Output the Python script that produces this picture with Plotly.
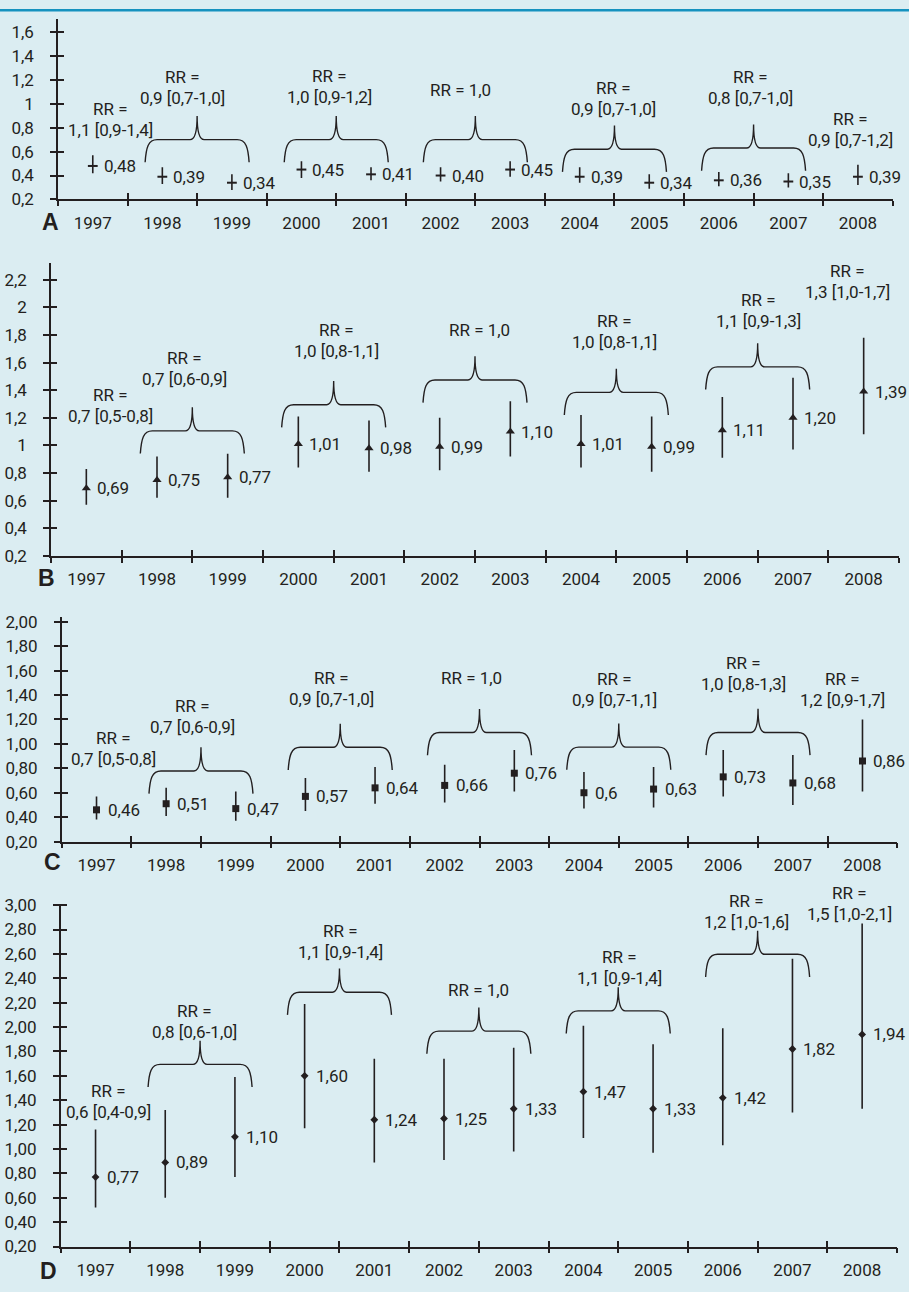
import plotly.graph_objects as go

W, H = 909, 1292
INK = "#231f20"
BG = "#dbedf2"
FONT = "Roboto, sans-serif"

# ---------------- data ----------------
YEARS = [1997, 1998, 1999, 2000, 2001, 2002, 2003, 2004, 2005, 2006, 2007, 2008]

A_VAL = [0.48, 0.39, 0.34, 0.45, 0.41, 0.40, 0.45, 0.39, 0.34, 0.36, 0.35, 0.39]
A_LO = [0.42, 0.33, 0.28, 0.38, 0.36, 0.35, 0.39, 0.34, 0.29, 0.31, 0.30, 0.32]
A_HI = [0.57, 0.47, 0.41, 0.52, 0.47, 0.47, 0.52, 0.47, 0.41, 0.43, 0.42, 0.49]
A_LAB = ["0,48", "0,39", "0,34", "0,45", "0,41", "0,40", "0,45", "0,39", "0,34", "0,36", "0,35", "0,39"]
A_RR = ["1,1 [0,9-1,4]", "0,9 [0,7-1,0]", "1,0 [0,9-1,2]", "1,0", "0,9 [0,7-1,0]", "0,8 [0,7-1,0]", "0,9 [0,7-1,2]"]
A_YTICKS = [0.2, 0.4, 0.6, 0.8, 1.0, 1.2, 1.4, 1.6]
A_YTEXT = ["0,2", "0,4", "0,6", "0,8", "1", "1,2", "1,4", "1,6"]

B_VAL = [0.69, 0.75, 0.77, 1.01, 0.98, 0.99, 1.10, 1.01, 0.99, 1.11, 1.20, 1.39]
B_LO = [0.57, 0.62, 0.62, 0.84, 0.81, 0.82, 0.92, 0.84, 0.81, 0.91, 0.97, 1.08]
B_HI = [0.83, 0.92, 0.94, 1.21, 1.18, 1.20, 1.32, 1.22, 1.21, 1.35, 1.49, 1.78]
B_LAB = ["0,69", "0,75", "0,77", "1,01", "0,98", "0,99", "1,10", "1,01", "0,99", "1,11", "1,20", "1,39"]
B_RR = ["0,7 [0,5-0,8]", "0,7 [0,6-0,9]", "1,0 [0,8-1,1]", "1,0", "1,0 [0,8-1,1]", "1,1 [0,9-1,3]", "1,3 [1,0-1,7]"]
B_YTICKS = [0.2, 0.4, 0.6, 0.8, 1.0, 1.2, 1.4, 1.6, 1.8, 2.0, 2.2]
B_YTEXT = ["0,2", "0,4", "0,6", "0,8", "1", "1,2", "1,4", "1,6", "1,8", "2", "2,2"]

C_VAL = [0.46, 0.51, 0.47, 0.57, 0.64, 0.66, 0.76, 0.60, 0.63, 0.73, 0.68, 0.86]
C_LO = [0.38, 0.41, 0.37, 0.45, 0.51, 0.52, 0.61, 0.47, 0.48, 0.57, 0.50, 0.61]
C_HI = [0.57, 0.64, 0.61, 0.72, 0.81, 0.83, 0.95, 0.77, 0.81, 0.95, 0.91, 1.20]
C_LAB = ["0,46", "0,51", "0,47", "0,57", "0,64", "0,66", "0,76", "0,6", "0,63", "0,73", "0,68", "0,86"]
C_RR = ["0,7 [0,5-0,8]", "0,7 [0,6-0,9]", "0,9 [0,7-1,0]", "1,0", "0,9 [0,7-1,1]", "1,0 [0,8-1,3]", "1,2 [0,9-1,7]"]
C_YTICKS = [0.2, 0.4, 0.6, 0.8, 1.0, 1.2, 1.4, 1.6, 1.8, 2.0]
C_YTEXT = ["0,20", "0,40", "0,60", "0,80", "1,00", "1,20", "1,40", "1,60", "1,80", "2,00"]

D_VAL = [0.77, 0.89, 1.10, 1.60, 1.24, 1.25, 1.33, 1.47, 1.33, 1.42, 1.82, 1.94]
D_LO = [0.52, 0.60, 0.77, 1.17, 0.89, 0.91, 0.98, 1.09, 0.97, 1.03, 1.30, 1.33]
D_HI = [1.16, 1.32, 1.59, 2.19, 1.74, 1.74, 1.83, 2.01, 1.86, 1.99, 2.56, 2.85]
D_LAB = ["0,77", "0,89", "1,10", "1,60", "1,24", "1,25", "1,33", "1,47", "1,33", "1,42", "1,82", "1,94"]
D_RR = ["0,6 [0,4-0,9]", "0,8 [0,6-1,0]", "1,1 [0,9-1,4]", "1,0", "1,1 [0,9-1,4]", "1,2 [1,0-1,6]", "1,5 [1,0-2,1]"]
D_YTICKS = [0.2, 0.4, 0.6, 0.8, 1.0, 1.2, 1.4, 1.6, 1.8, 2.0, 2.2, 2.4, 2.6, 2.8, 3.0]
D_YTEXT = ["0,20", "0,40", "0,60", "0,80", "1,00", "1,20", "1,40", "1,60", "1,80", "2,00",
           "2,20", "2,40", "2,60", "2,80", "3,00"]

# ---------------- layout / placement (pixels & annotation positions) ----------------
PANELS = [
    dict(letter="A", val=A_VAL, lo=A_LO, hi=A_HI, lab=A_LAB, rr=A_RR, yt=A_YTICKS, ytx=A_YTEXT,
         px0=58, px1=892.7, pyb=193.3, pyt=10, ymax=1.71, symbol="line-ew", msize=7, mline=2,
         letter_xy=(50, 216),
         rr_x=[0.75, 1.79, 3.91, 5.79, 7.99, 9.95, 11.40],
         rr_y=[0.872, 1.133, 1.141, 1.119, 1.044, 1.136, 0.787],
         brace_y=[0.70, 0.70, 0.70, 0.62, 0.63]),
    dict(letter="B", val=B_VAL, lo=B_LO, hi=B_HI, lab=B_LAB, rr=B_RR, yt=B_YTICKS, ytx=B_YTEXT,
         px0=51, px1=899, pyb=555, pyt=258, ymax=2.32, symbol="triangle-up", msize=8, mline=0,
         letter_xy=(46, 577),
         rr_x=[0.84, 1.885, 4.04, 6.07, 7.98, 10.01, 11.27],
         rr_y=[1.287, 1.559, 1.761, 1.836, 1.827, 1.974, 2.187],
         brace_y=[1.105, 1.295, 1.474, 1.384, 1.569]),
    dict(letter="C", val=C_VAL, lo=C_LO, hi=C_HI, lab=C_LAB, rr=C_RR, yt=C_YTICKS, ytx=C_YTEXT,
         px0=61.7, px1=897.3, pyb=845, pyt=617, ymax=2.04, symbol="square", msize=7, mline=0,
         letter_xy=(52, 866),
         rr_x=[0.74, 1.88, 3.88, 5.88, 7.94, 9.79, 11.21],
         rr_y=[0.959, 1.227, 1.45, 1.538, 1.449, 1.576, 1.449],
         brace_y=[0.778, 0.972, 1.093, 0.974, 1.094]),
    dict(letter="D", val=D_VAL, lo=D_LO, hi=D_HI, lab=D_LAB, rr=D_RR, yt=D_YTICKS, ytx=D_YTEXT,
         px0=60.7, px1=897, pyb=1256, pyt=908.3, ymax=3.01, symbol="diamond", msize=6, mline=0,
         letter_xy=(48, 1281),
         rr_x=[0.68, 1.92, 4.01, 6.0, 8.02, 9.84, 11.32],
         rr_y=[1.389, 2.046, 2.701, 2.308, 2.486, 2.945, 3.017],
         brace_y=[1.694, 2.286, 1.967, 2.133, 2.597]),
]

TXT = 17
NCAT = len(YEARS)
CENTERS = [i + 0.5 for i in range(NCAT)]
BOUNDS = list(range(NCAT + 1))


def fx(px):
    return px / W


def fy(py):
    return 1 - py / H


def ax_name(kind, n):
    return kind if n == 1 else f"{kind}{n}"


fig = go.Figure()
layout = {}
annotations = []
shapes = []

for i, p in enumerate(PANELS, start=1):
    xr, yr = ax_name("x", i), ax_name("y", i)
    xo, yo = ax_name("x", i + 4), ax_name("y", i + 4)
    xdom = [fx(p["px0"]), fx(p["px1"])]
    ydom = [fy(p["pyb"]), fy(p["pyt"])]
    yrange = [0.2, p["ymax"]]
    xppu = (p["px1"] - p["px0"]) / NCAT
    yppu = (p["pyb"] - p["pyt"]) / (yrange[1] - yrange[0])

    # points with confidence intervals
    fig.add_trace(go.Scatter(
        x=CENTERS, y=p["val"], mode="markers", xaxis=xr, yaxis=yr,
        marker=dict(symbol=p["symbol"], size=p["msize"], color=INK,
                    line=dict(color=INK, width=p["mline"])),
        error_y=dict(type="data", symmetric=False,
                     array=[h - v for h, v in zip(p["hi"], p["val"])],
                     arrayminus=[v - l for v, l in zip(p["val"], p["lo"])],
                     width=0, thickness=1.6, color=INK),
        showlegend=False, hoverinfo="skip", cliponaxis=False))
    # dummy traces for overlay tick axes
    fig.add_trace(go.Scatter(x=[None], y=[None], xaxis=xo, yaxis=yr, showlegend=False, hoverinfo="skip"))
    fig.add_trace(go.Scatter(x=[None], y=[None], xaxis=xr, yaxis=yo, showlegend=False, hoverinfo="skip"))

    tickfont = dict(family=FONT, size=TXT, color=INK)
    layout[ax_name("xaxis", i)] = dict(
        domain=xdom, range=[0, NCAT], anchor=yr, tickmode="array", tickvals=CENTERS,
        ticktext=[str(y) for y in YEARS], ticks="", showline=True, linewidth=1.5, linecolor=INK,
        showgrid=False, zeroline=False, tickfont=tickfont, ticklabelstandoff=7,
        minor=dict(tickmode="array", tickvals=BOUNDS, ticks="outside", ticklen=5,
                   tickwidth=1.5, tickcolor=INK))
    layout[ax_name("xaxis", i + 4)] = dict(
        overlaying=xr, anchor=yr, range=[0, NCAT], side="bottom", tickmode="array",
        tickvals=BOUNDS, ticks="inside", ticklen=6, tickwidth=1.5, tickcolor=INK,
        showticklabels=False, showline=False, showgrid=False, zeroline=False)
    layout[ax_name("yaxis", i)] = dict(
        domain=ydom, range=yrange, anchor=xr, tickmode="array", tickvals=p["yt"], ticktext=p["ytx"],
        ticks="outside", ticklen=6, tickwidth=1.5, tickcolor=INK, showline=True, linewidth=1.5,
        linecolor=INK, showgrid=False, zeroline=False, tickfont=tickfont, ticklabelstandoff=13)
    layout[ax_name("yaxis", i + 4)] = dict(
        overlaying=yr, anchor=xr, range=yrange, side="left", tickmode="array", tickvals=p["yt"],
        ticks="inside", ticklen=6, tickwidth=1.5, tickcolor=INK, showticklabels=False,
        showline=False, showgrid=False, zeroline=False)

    # value labels
    for xc, v, lab in zip(CENTERS, p["val"], p["lab"]):
        annotations.append(dict(x=xc, y=v, xref=xr, yref=yr, text=lab, showarrow=False,
                                xanchor="left", yanchor="middle", xshift=9,
                                font=dict(family=FONT, size=TXT, color=INK)))
    # RR labels (anchored inside the axis range, shifted in pixels if placed above it)
    for txt, rx, ry in zip(p["rr"], p["rr_x"], p["rr_y"]):
        ay = min(ry, yrange[1])
        extra = (ry - ay) * yppu
        lines = [("RR = 1,0", 0)] if txt == "1,0" else [("RR =", 10.5), (txt, -10.5)]
        for t, sh in lines:
            annotations.append(dict(x=rx, y=ay, xref=xr, yref=yr, text=t, showarrow=False,
                                    xanchor="center", yanchor="middle", yshift=sh + extra,
                                    font=dict(family=FONT, size=TXT, color=INK)))
    # braces grouping pairs of years
    hw = 52 / xppu
    drop, rise = 23 / yppu, 24 / yppu
    c1, c2 = 12 / xppu, 7 / xppu
    for j, yl in enumerate(p["brace_y"]):
        cx = BOUNDS[2 * (j + 1)]
        L, R = cx - hw, cx + hw
        yb = yl - drop
        path = (f"M {L},{yb} C {L + 1 / xppu},{yl - 8 / yppu} {L + 3 / xppu},{yl} {L + c1},{yl} "
                f"L {cx - c2},{yl} Q {cx},{yl} {cx},{yl + rise} "
                f"Q {cx},{yl} {cx + c2},{yl} L {R - c1},{yl} "
                f"C {R - 3 / xppu},{yl} {R - 1 / xppu},{yl - 8 / yppu} {R},{yb}")
        shapes.append(dict(type="path", path=path, xref=xr, yref=yr,
                           line=dict(color=INK, width=1.4), fillcolor="rgba(0,0,0,0)"))
    # panel letter
    lx, ly = p["letter_xy"]
    annotations.append(dict(x=fx(lx), y=fy(ly), xref="paper", yref="paper", text=f"<b>{p['letter']}</b>",
                            showarrow=False, xanchor="center", yanchor="middle",
                            font=dict(family="Liberation Sans, Arial, sans-serif", size=23, color=INK)))

# thin top rule
shapes.append(dict(type="rect", xref="paper", yref="paper", x0=0, x1=1, y0=fy(2.5), y1=1,
                   line=dict(width=0), fillcolor="#1592bf"))

fig.update_layout(
    width=W, height=H, margin=dict(l=0, r=0, t=0, b=0),
    paper_bgcolor=BG, plot_bgcolor=BG, showlegend=False,
    font=dict(family=FONT, size=TXT, color=INK),
    annotations=annotations, shapes=shapes, **layout)

fig.write_html("out.html", config={"displayModeBar": False},
               post_script="document.body.style.margin='0';document.body.style.overflow='hidden';"
                           "document.body.style.background='" + BG + "';")
